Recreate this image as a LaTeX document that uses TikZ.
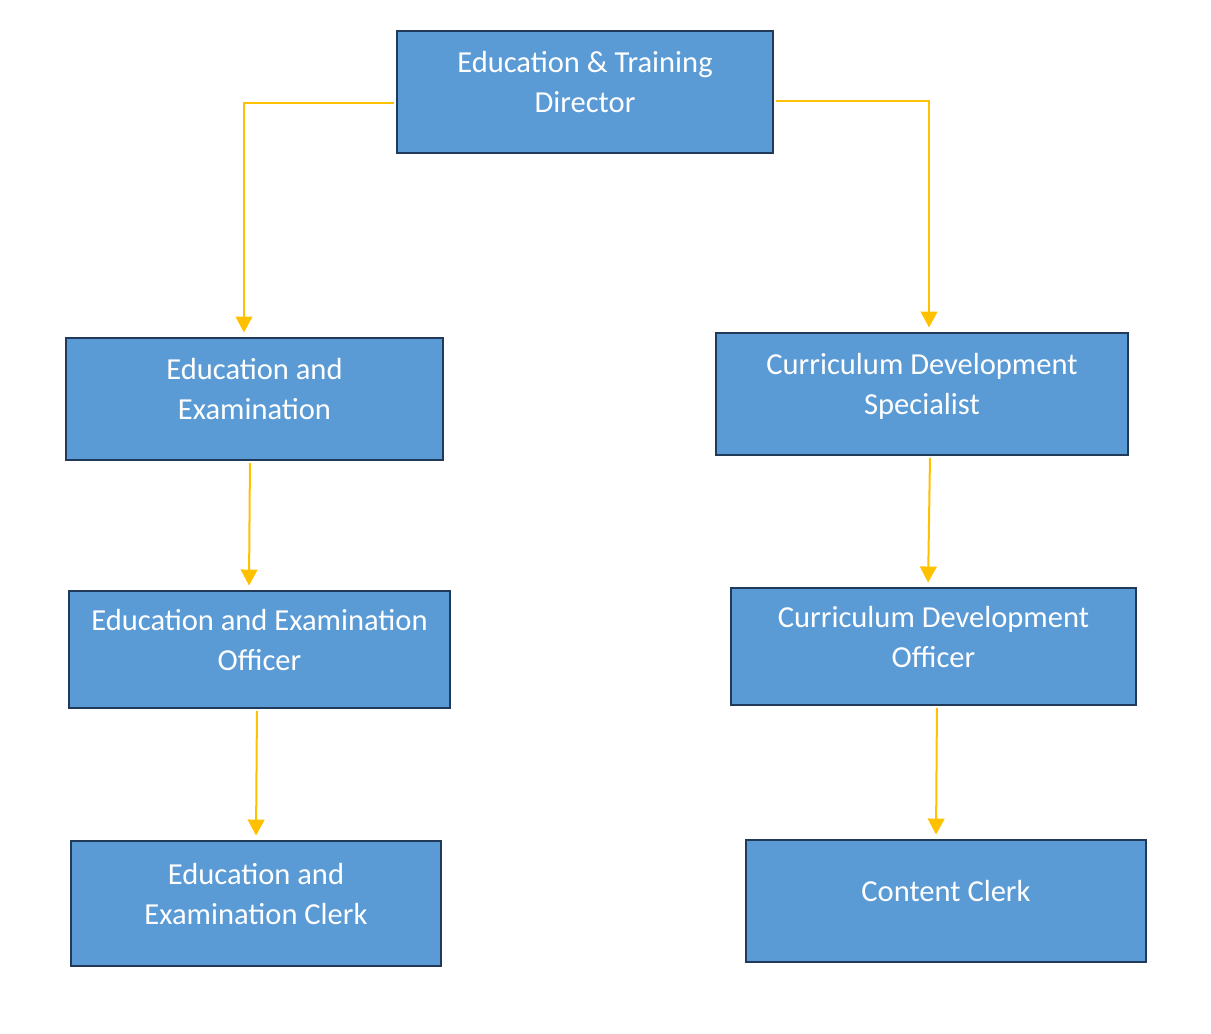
\documentclass[tikz,border=0pt]{standalone}
\usepackage{fontspec}
\setmainfont{Carlito}
\usetikzlibrary{positioning, arrows.meta}

\definecolor{boxblue}{HTML}{5B9BD5}
\definecolor{boxedge}{HTML}{223A5A}
\definecolor{linkgold}{HTML}{FFC000}

\begin{document}
\begin{tikzpicture}[x=0.75pt, y=-0.75pt,
        role/.style={rectangle, draw=boxedge, line width=2.2pt, fill=boxblue, text=white, align=center,
            font=\fontsize{22.9}{30}\selectfont, inner sep=0pt, text depth=15pt},
        link/.style={draw=linkgold, line width=1.5pt, shorten <=1pt, shorten >=3pt,
            -{Triangle[width=12.5pt, length=12pt]}}]
                \useasboundingbox (0, 0) rectangle (1211, 1033);

                \node[role, minimum width=282pt, minimum height=91.5pt] (dir) at (585, 92) {Education \& Training\\Director};
                \node[role, minimum width=282.75pt, minimum height=91.5pt] (ee) at (254.5, 399) {Education and\\Examination};
                \node[role, minimum width=309pt, minimum height=91.5pt] (cds) at (922, 394) {Curriculum Development\\Specialist};
                \node[role, minimum width=285.75pt, minimum height=87.75pt] (eeo) at (259.5, 649.5) {Education and Examination\\Officer};
                \node[role, minimum width=303.75pt, minimum height=87.75pt] (cdo) at (933.5, 646.5) {Curriculum Development\\Officer};
                \node[role, minimum width=277.5pt, minimum height=93.75pt] (eec) at (256, 903.5) {Education and\\Examination Clerk};
                \node[role, minimum width=300pt, minimum height=91.5pt] (cc) at (946, 901) {Content Clerk};

                \draw[link] ([yshift=-8.25pt]dir.west) -| ([xshift=-7.9pt]ee.north);
                \draw[link] ([yshift=-6.75pt]dir.east) -| ([xshift=5.25pt]cds.north);
                \draw[link] ([xshift=-3.4pt]ee.south) -- ([xshift=-7.9pt]eeo.north);
                \draw[link] ([xshift=-1.9pt]eeo.south) -- (eec.north);
                \draw[link] ([xshift=6pt]cds.south) -- ([xshift=-4.1pt]cdo.north);
                \draw[link] ([xshift=2.6pt]cdo.south) -- ([xshift=-7.5pt]cc.north);
            \end{tikzpicture}
\end{document}
